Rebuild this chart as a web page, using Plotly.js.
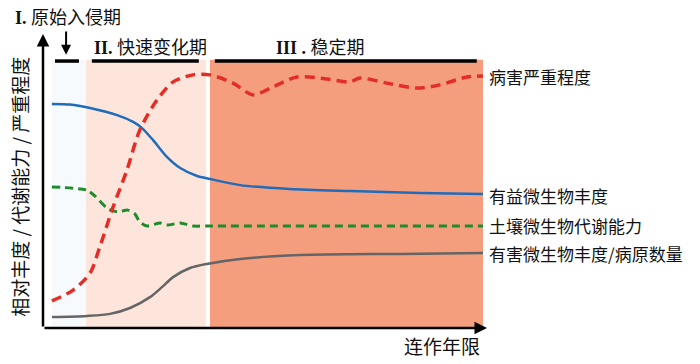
<!DOCTYPE html>
<html><head><meta charset="utf-8">
<script src="https://cdn.plot.ly/plotly-3.0.1.min.js"></script>
<style>body{margin:0;background:#fff}#c{width:700px;height:364px}</style>
</head><body><div id="c"></div>
<script>
// Relative units: x = 连作年限 (0-100), y = 相对值 (0-100)
const phaseNames = ["<b>I.</b> 原始入侵期", "<b>II.</b> 快速变化期", "<b>III</b> <b>.</b> 稳定期"];
const phaseStart = [2.0, 9.7, 37.6];
const phaseEnd = [9.7, 36.7, 99.1];
const phaseColors = ["#f7fafc", "#fde5db", "#f49e7e"];
const phaseBarStart = [2.7, 11.0, 38.7];
const phaseBarEnd = [8.1, 35.1, 97.7];

const seriesNames = ["病害严重程度", "有益微生物丰度", "土壤微生物代谢能力", "有害微生物丰度/病原数量"];

const severityX = [2.0, 6.8, 10.6, 12.8, 15.8, 18.9, 21.8, 25.7, 29.3, 33.8, 37.6, 42.8, 47.3, 51.8, 57.2, 64.0, 69.1, 71.4, 77.5, 84.2, 89.4, 95.5, 99.1];
const severityY = [9.2, 12.9, 18.7, 27.6, 41.2, 53.7, 67.3, 77.6, 83.7, 86.1, 86.1, 83.3, 79.3, 82.0, 85.4, 84.7, 83.7, 85.0, 83.3, 81.6, 82.7, 85.4, 85.7];

const beneficialX = [2.0, 6.1, 10.6, 16.7, 20.3, 22.3, 24.8, 27.9, 30.9, 34.7, 37.6, 44.4, 55.6, 69.1, 84.9, 99.1];
const beneficialY = [76.2, 76.0, 74.8, 72.4, 70.1, 68.0, 63.9, 58.2, 54.4, 51.7, 50.7, 48.6, 47.3, 46.6, 45.9, 45.6];

const metabolismX = [2.0, 9.9, 11.7, 14.4, 16.7, 19.1, 20.7, 21.8, 23.4, 26.4, 27.9, 30.9, 33.8, 37.6, 99.1];
const metabolismY = [48.0, 46.9, 44.9, 40.8, 39.5, 40.1, 38.8, 36.1, 34.7, 35.7, 35.0, 35.7, 34.7, 34.7, 34.7];

const pathogenX = [2.0, 9.9, 15.1, 19.6, 24.1, 26.8, 29.3, 33.1, 36.9, 44.4, 57.9, 80.4, 99.1];
const pathogenY = [3.7, 4.1, 4.8, 6.8, 10.5, 13.9, 17.3, 20.4, 21.8, 23.5, 24.8, 25.2, 25.5];

const labelY = [85.4, 44.9, 35.0, 25.2];

const cjk = "Noto Sans CJK SC, sans-serif";
const serifMix = "Liberation Serif, Noto Sans CJK SC, serif";

const traces = [
  {x: pathogenX, y: pathogenY, mode: "lines", line: {color: "#656565", width: 2.5, shape: "spline", smoothing: 0.8}},
  {x: metabolismX, y: metabolismY, mode: "lines", line: {color: "#1e8c2a", width: 3, shape: "spline", smoothing: 0.6, dash: "8px,5px"}},
  {x: beneficialX, y: beneficialY, mode: "lines", line: {color: "#1f6cbc", width: 2.5, shape: "spline", smoothing: 0.7}},
  {x: severityX, y: severityY, mode: "lines", line: {color: "#e52d27", width: 3.5, shape: "spline", smoothing: 0.8, dash: "10px,6px"}}
];

const shapes = [];
for (let i = 0; i < phaseStart.length; i++) {
  shapes.push({type: "rect", xref: "x", yref: "y", x0: phaseStart[i], x1: phaseEnd[i], y0: 0, y1: 91.2,
    fillcolor: phaseColors[i], line: {width: 0}, layer: "below"});
  shapes.push({type: "line", xref: "x", yref: "y", x0: phaseBarStart[i], x1: phaseBarEnd[i], y0: 90.8, y1: 90.8,
    line: {color: "#000", width: 3.5}});
}

const annotations = [];
// axes with arrows
annotations.push({x: 0, y: 100, ax: 0, ay: 0, xref: "x", yref: "y", axref: "x", ayref: "y", text: "",
  showarrow: true, arrowhead: 2, arrowsize: 1, arrowwidth: 2.5, arrowcolor: "#000"});
annotations.push({x: 100, y: 0, ax: 0, ay: 0, xref: "x", yref: "y", axref: "x", ayref: "y", text: "",
  showarrow: true, arrowhead: 2, arrowsize: 1, arrowwidth: 2.5, arrowcolor: "#000"});
// phase I down arrow
annotations.push({x: 5.2, y: 92.9, ax: 5.2, ay: 101.4, xref: "x", yref: "y", axref: "x", ayref: "y", text: "",
  showarrow: true, arrowhead: 2, arrowsize: 1, arrowwidth: 2, arrowcolor: "#000"});
// phase titles
annotations.push({x: -0.068, y: 1.054, xref: "paper", yref: "paper", text: phaseNames[0], showarrow: false,
  xanchor: "left", yanchor: "middle", font: {family: serifMix, size: 18, color: "#111"}});
annotations.push({x: 11.0, y: 95.2, xref: "x", yref: "y", text: phaseNames[1], showarrow: false, xanchor: "left",
  font: {family: serifMix, size: 18, color: "#111"}});
annotations.push({x: 52.0, y: 95.2, xref: "x", yref: "y", text: phaseNames[2], showarrow: false, xanchor: "left",
  font: {family: serifMix, size: 18, color: "#111"}});
// series labels
for (let i = 0; i < seriesNames.length; i++) {
  annotations.push({x: 100, y: labelY[i], xref: "x", yref: "y", text: seriesNames[i], showarrow: false,
    xanchor: "left", xshift: 0, font: {family: cjk, size: 17, color: "#111"}});
}
// axis titles
annotations.push({x: -0.052, y: 0.48, xref: "paper", yref: "paper", text: "相对丰度 / 代谢能力 / 严重程度",
  textangle: -90, showarrow: false, xanchor: "center", yanchor: "middle", font: {family: cjk, size: 19, color: "#111"}});
annotations.push({x: 0.989, y: -0.058, xref: "paper", yref: "paper", text: "连作年限",
  showarrow: false, xanchor: "right", yanchor: "middle", font: {family: cjk, size: 19, color: "#111"}});

const layout = {
  width: 700, height: 364,
  margin: {l: 43, r: 213, t: 34, b: 36},
  paper_bgcolor: "#fff", plot_bgcolor: "#fff",
  showlegend: false,
  xaxis: {range: [0, 100], visible: false, fixedrange: true},
  yaxis: {range: [0, 100], visible: false, fixedrange: true},
  shapes: shapes,
  annotations: annotations
};

Plotly.newPlot("c", traces, layout, {displayModeBar: false, staticPlot: true});
</script>
</body></html>
